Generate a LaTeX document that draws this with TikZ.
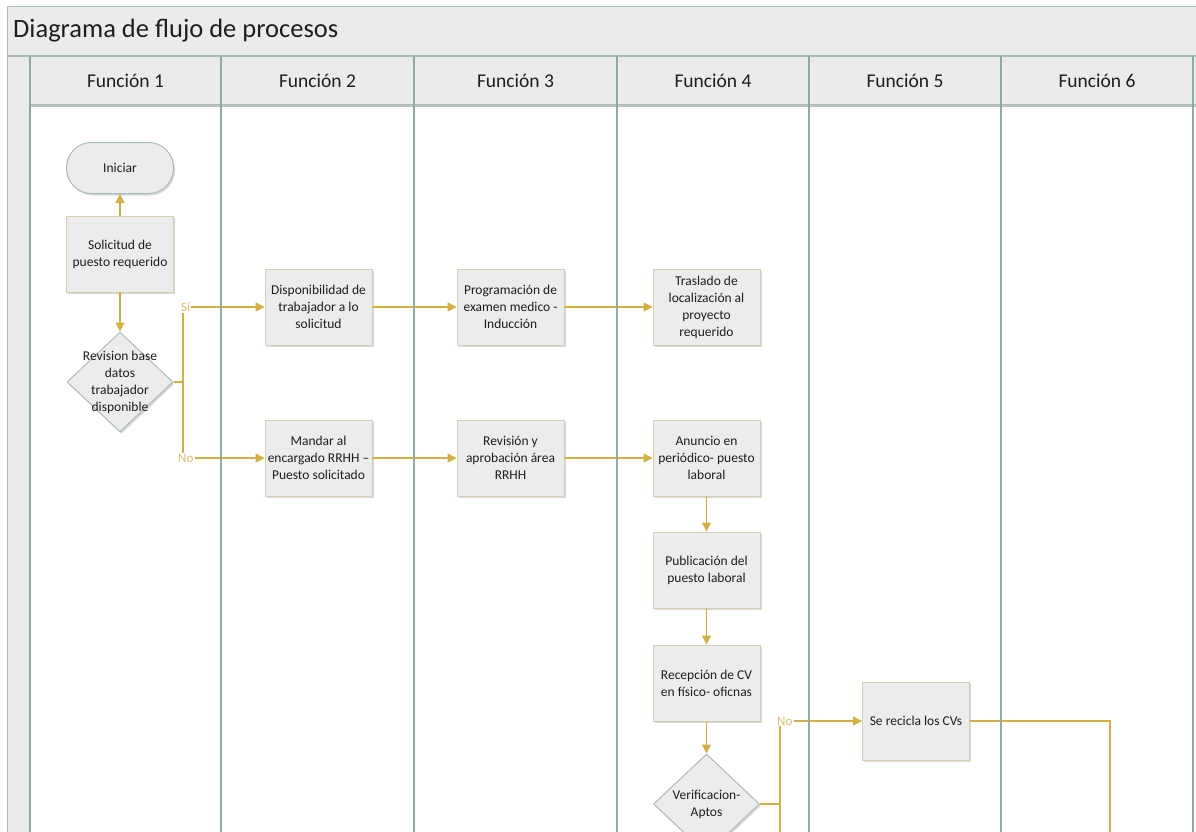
\documentclass[tikz,border=0pt]{standalone}
\usepackage{fontspec}
\setmainfont{Carlito}
\usetikzlibrary{arrows.meta,shapes.geometric,shadows}

\definecolor{frame}{HTML}{A9BCB5}
\definecolor{lane}{HTML}{93AAA2}
\definecolor{band}{HTML}{EBEBEB}
\definecolor{boxfill}{HTML}{ECECEC}
\definecolor{boxedge}{HTML}{D8CFB2}
\definecolor{gold}{HTML}{D4B040}
\definecolor{goldtxt}{HTML}{D9BE6E}
\definecolor{ink}{HTML}{1E1E1E}

\begin{document}
\begin{tikzpicture}[x=1pt,y=-1pt,
  boxshadow/.style={drop shadow={shadow xshift=1.5pt,shadow yshift=-2pt,opacity=0.3}},
  task/.style={draw=boxedge,line width=0.8pt,fill=boxfill,minimum width=107pt,
    minimum height=76pt,inner sep=2pt,align=center,text=ink,
    font=\fontsize{13.5}{17}\selectfont,boxshadow},
  terminal/.style={draw=frame,line width=1pt,fill=boxfill,minimum width=107pt,
    minimum height=51pt,rounded corners=25pt,text=ink,
    font=\fontsize{13.5}{17}\selectfont,boxshadow},
  decision/.style={diamond,draw=frame,line width=1pt,fill=boxfill,
    minimum width=106pt,minimum height=100pt,inner sep=0pt,boxshadow},
  dtext/.style={align=center,text=ink,inner sep=0pt,
    font=\fontsize{13.5}{17}\selectfont},
  flow/.style={draw=gold,line width=1.1pt,-{Triangle[length=9pt,width=9pt]}},
  link/.style={draw=gold,line width=1.1pt},
  lbl/.style={text=goldtxt,inner sep=1pt,font=\fontsize{13}{14}\selectfont},
  head/.style={text=ink,font=\fontsize{19.5}{22}\selectfont},
  divider/.style={draw=lane,line width=1.8pt},
]
\useasboundingbox (0,0) rectangle (1196,832);
\fill[white] (0,0) rectangle (1196,832);

% title band, header row and left strip
\fill[band] (7,7) rectangle (1196,56);
\fill[band] (7,56) rectangle (30,832);
\fill[band] (30,56) rectangle (1196,105);
\draw[frame,line width=1pt] (7,832) -- (7,7) -- (1196,7);
\draw[frame,line width=1.2pt] (7,56) -- (1196,56);
\draw[black!25,line width=2pt] (30,106) -- (1196,106);
\draw[frame,line width=1pt] (30,105) -- (1196,105);
\node[anchor=west,text=ink,font=\fontsize{26.5}{30}\selectfont,inner sep=0pt]
  (title) at (13,31) {Diagrama de flujo de procesos};

% lane headers
\node[head] (h1) at (125.5,81) {Función 1};
\node[head] (h2) at (317.5,81) {Función 2};
\node[head] (h3) at (515.5,81) {Función 3};
\node[head] (h4) at (713,81) {Función 4};
\node[head] (h5) at (905,81) {Función 5};
\node[head] (h6) at (1097,81) {Función 6};

% process steps
\node[terminal] (ini) at (120,168) {Iniciar};
\node[task] (sol) at (120,254) {Solicitud de\\puesto requerido};
\node[decision] (d1) at (120,382) {};
\node[dtext] (d1t) at (d1) {Revision base\\datos\\trabajador\\disponible};

\node[task] (disp) at (318.5,307) {Disponibilidad de\\trabajador a lo\\solicitud};
\node[task] (mand) at (318.5,458) {Mandar al\\encargado RRHH –\\Puesto solicitado};
\node[task] (prog) at (510.5,307) {Programación de\\examen medico -\\Inducción};
\node[task] (rev) at (510.5,458) {Revisión y\\aprobación área\\RRHH};
\node[task] (tras) at (706.5,307) {Traslado de\\localización al\\proyecto\\requerido};
\node[task] (anun) at (706.5,458) {Anuncio en\\periódico- puesto\\laboral};
\node[task] (pub) at (706.5,570) {Publicación del\\puesto laboral};
\node[task] (rec) at (706.5,683) {Recepción de CV\\en físico- oficnas};
\node[decision] (d2) at (706.5,804) {};
\node[dtext] (d2t) at (d2) {Verificacion-\\Aptos};
\node[task,minimum height=78pt] (recic) at (916,721) {Se recicla los CVs};

% branch labels and junctions
\node[lbl,anchor=west] (si) at (180,307) {Sí};
\node[lbl,anchor=west] (no) at (177,458) {No};
\coordinate (j1) at (183,382);
\node[lbl,anchor=west] (no2) at (776,721) {No};
\coordinate (j2) at (780,804);
\coordinate (down2) at (780,832);
\coordinate (turn) at (1110,721);
\coordinate (down3) at (1110,832);

% connectors
\draw[flow] (sol.north) -- (ini.south);
\draw[flow] (sol.south) -- (d1.north);
\draw[link] (d1.east) -- (j1);
\draw[link] (j1 |- si.south) -- (j1 |- no.north);
\draw[flow] (si.east) -- (disp.west);
\draw[flow] (no.east) -- (mand.west);
\draw[flow] (disp.east) -- (prog.west);
\draw[flow] (prog.east) -- (tras.west);
\draw[flow] (mand.east) -- (rev.west);
\draw[flow] (rev.east) -- (anun.west);
\draw[flow] (anun.south) -- (pub.north);
\draw[flow] (pub.south) -- (rec.north);
\draw[flow] (rec.south) -- (d2.north);
\draw[link] (d2.east) -- (j2);
\draw[link] (j2 |- no2.south) -- (down2);
\draw[flow] (no2.east) -- (recic.west);
\draw[link] (recic.east) -- (turn) -- (down3);

% lane dividers
\foreach \x in {30,221,414,617,809,1001,1193}
  \draw[divider] (\x,56) -- (\x,832);
\end{tikzpicture}
\end{document}
